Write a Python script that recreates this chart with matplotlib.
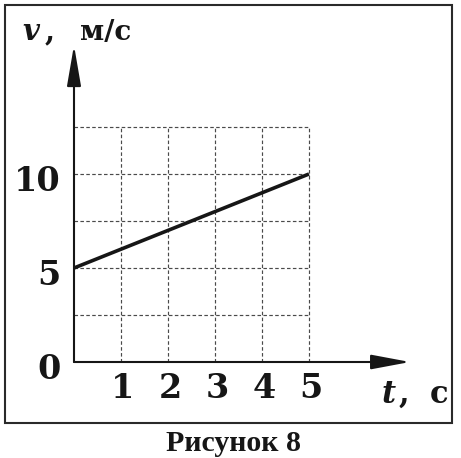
import matplotlib
matplotlib.use("Agg")
import matplotlib.pyplot as plt
from matplotlib.patches import Rectangle

# Data
t_values = [0, 5]
v_values = [5, 10]
x_ticks = [1, 2, 3, 4, 5]
x_tick_labels = ["1", "2", "3", "4", "5"]
y_ticks = [0, 5, 10]
y_tick_labels = ["0", "5", "10"]
grid_x = [1, 2, 3, 4, 5]
grid_y = [2.5, 5, 7.5, 10, 12.5]

W, H = 461, 458
fig = plt.figure(figsize=(W / 100, H / 100), dpi=100)
ax = fig.add_axes([0, 0, 1, 1])
ax.set_axis_off()

# pixel mapping: origin at (74, 362), 47 px per second, 18.8 px per m/s
ox, oy, sx, sy = 74, 362, 47.0, 18.8
ax.set_xlim(-ox / sx, (W - ox) / sx)
ax.set_ylim((oy - H) / sy, oy / sy)

ink = "#161616"
gridc = "#4a4a4a"
serif = "DejaVu Serif"

# frame
fig.patches.append(Rectangle((5 / W, (H - 423) / H), 447 / W, 418 / H,
                             transform=fig.transFigure, fill=False,
                             edgecolor="#2a2a2a", lw=1.5))

# grid
for gx in grid_x:
    ax.plot([gx, gx], [0, grid_y[-1]], ls=(0, (3, 2)), color=gridc, lw=0.85)
for gy in grid_y:
    ax.plot([0, grid_x[-1]], [gy, gy], ls=(0, (3, 2)), color=gridc, lw=0.85)

# axes with arrows
ax.annotate("", xy=(7.15, 0), xytext=(0, 0),
            arrowprops=dict(arrowstyle="-|>,head_length=2.4,head_width=0.45",
                            mutation_scale=10, color=ink, lw=1.5,
                            shrinkA=0, shrinkB=0))
ax.annotate("", xy=(0, 16.85), xytext=(0, 0),
            arrowprops=dict(arrowstyle="-|>,head_length=2.5,head_width=0.43",
                            mutation_scale=10, color=ink, lw=1.5,
                            shrinkA=0, shrinkB=0))

# data line
ax.plot(t_values, v_values, color=ink, lw=2.6, solid_capstyle="butt")

# tick labels
for x, lab in zip(x_ticks, x_tick_labels):
    ax.text(x + 0.04, -1.91, lab, ha="center", va="baseline",
            fontsize=24, family=serif, weight="bold", color=ink)
for y, lab in zip(y_ticks, y_tick_labels):
    ax.text(-0.28, y - 0.9, lab, ha="right", va="baseline",
            fontsize=24, family=serif, weight="bold", color=ink)

# axis labels
ax.text(-1.09, 17.13, "v", ha="left", va="baseline", fontsize=21,
        family=serif, style="italic", weight="bold", color=ink)
ax.text(-0.62, 17.13, ",", ha="left", va="baseline", fontsize=21,
        family=serif, weight="bold", color=ink)
ax.text(0.12, 17.13, "м/с", ha="left", va="baseline", fontsize=20,
        family=serif, weight="bold", color=ink)

ax.text(6.55, -2.18, "t", ha="left", va="baseline", fontsize=22,
        family=serif, style="italic", weight="bold", color=ink)
ax.text(6.9, -2.18, ",", ha="left", va="baseline", fontsize=22,
        family=serif, weight="bold", color=ink)
ax.text(7.57, -2.18, "с", ha="left", va="baseline", fontsize=22,
        family=serif, weight="bold", color=ink)

# caption
fig.text(233 / W, (H - 451) / H, "Рисунок 8", ha="center", va="baseline",
         fontsize=21.5, family="Liberation Serif", weight="bold", color=ink)

fig.savefig("out.png", dpi=100, facecolor="white")
